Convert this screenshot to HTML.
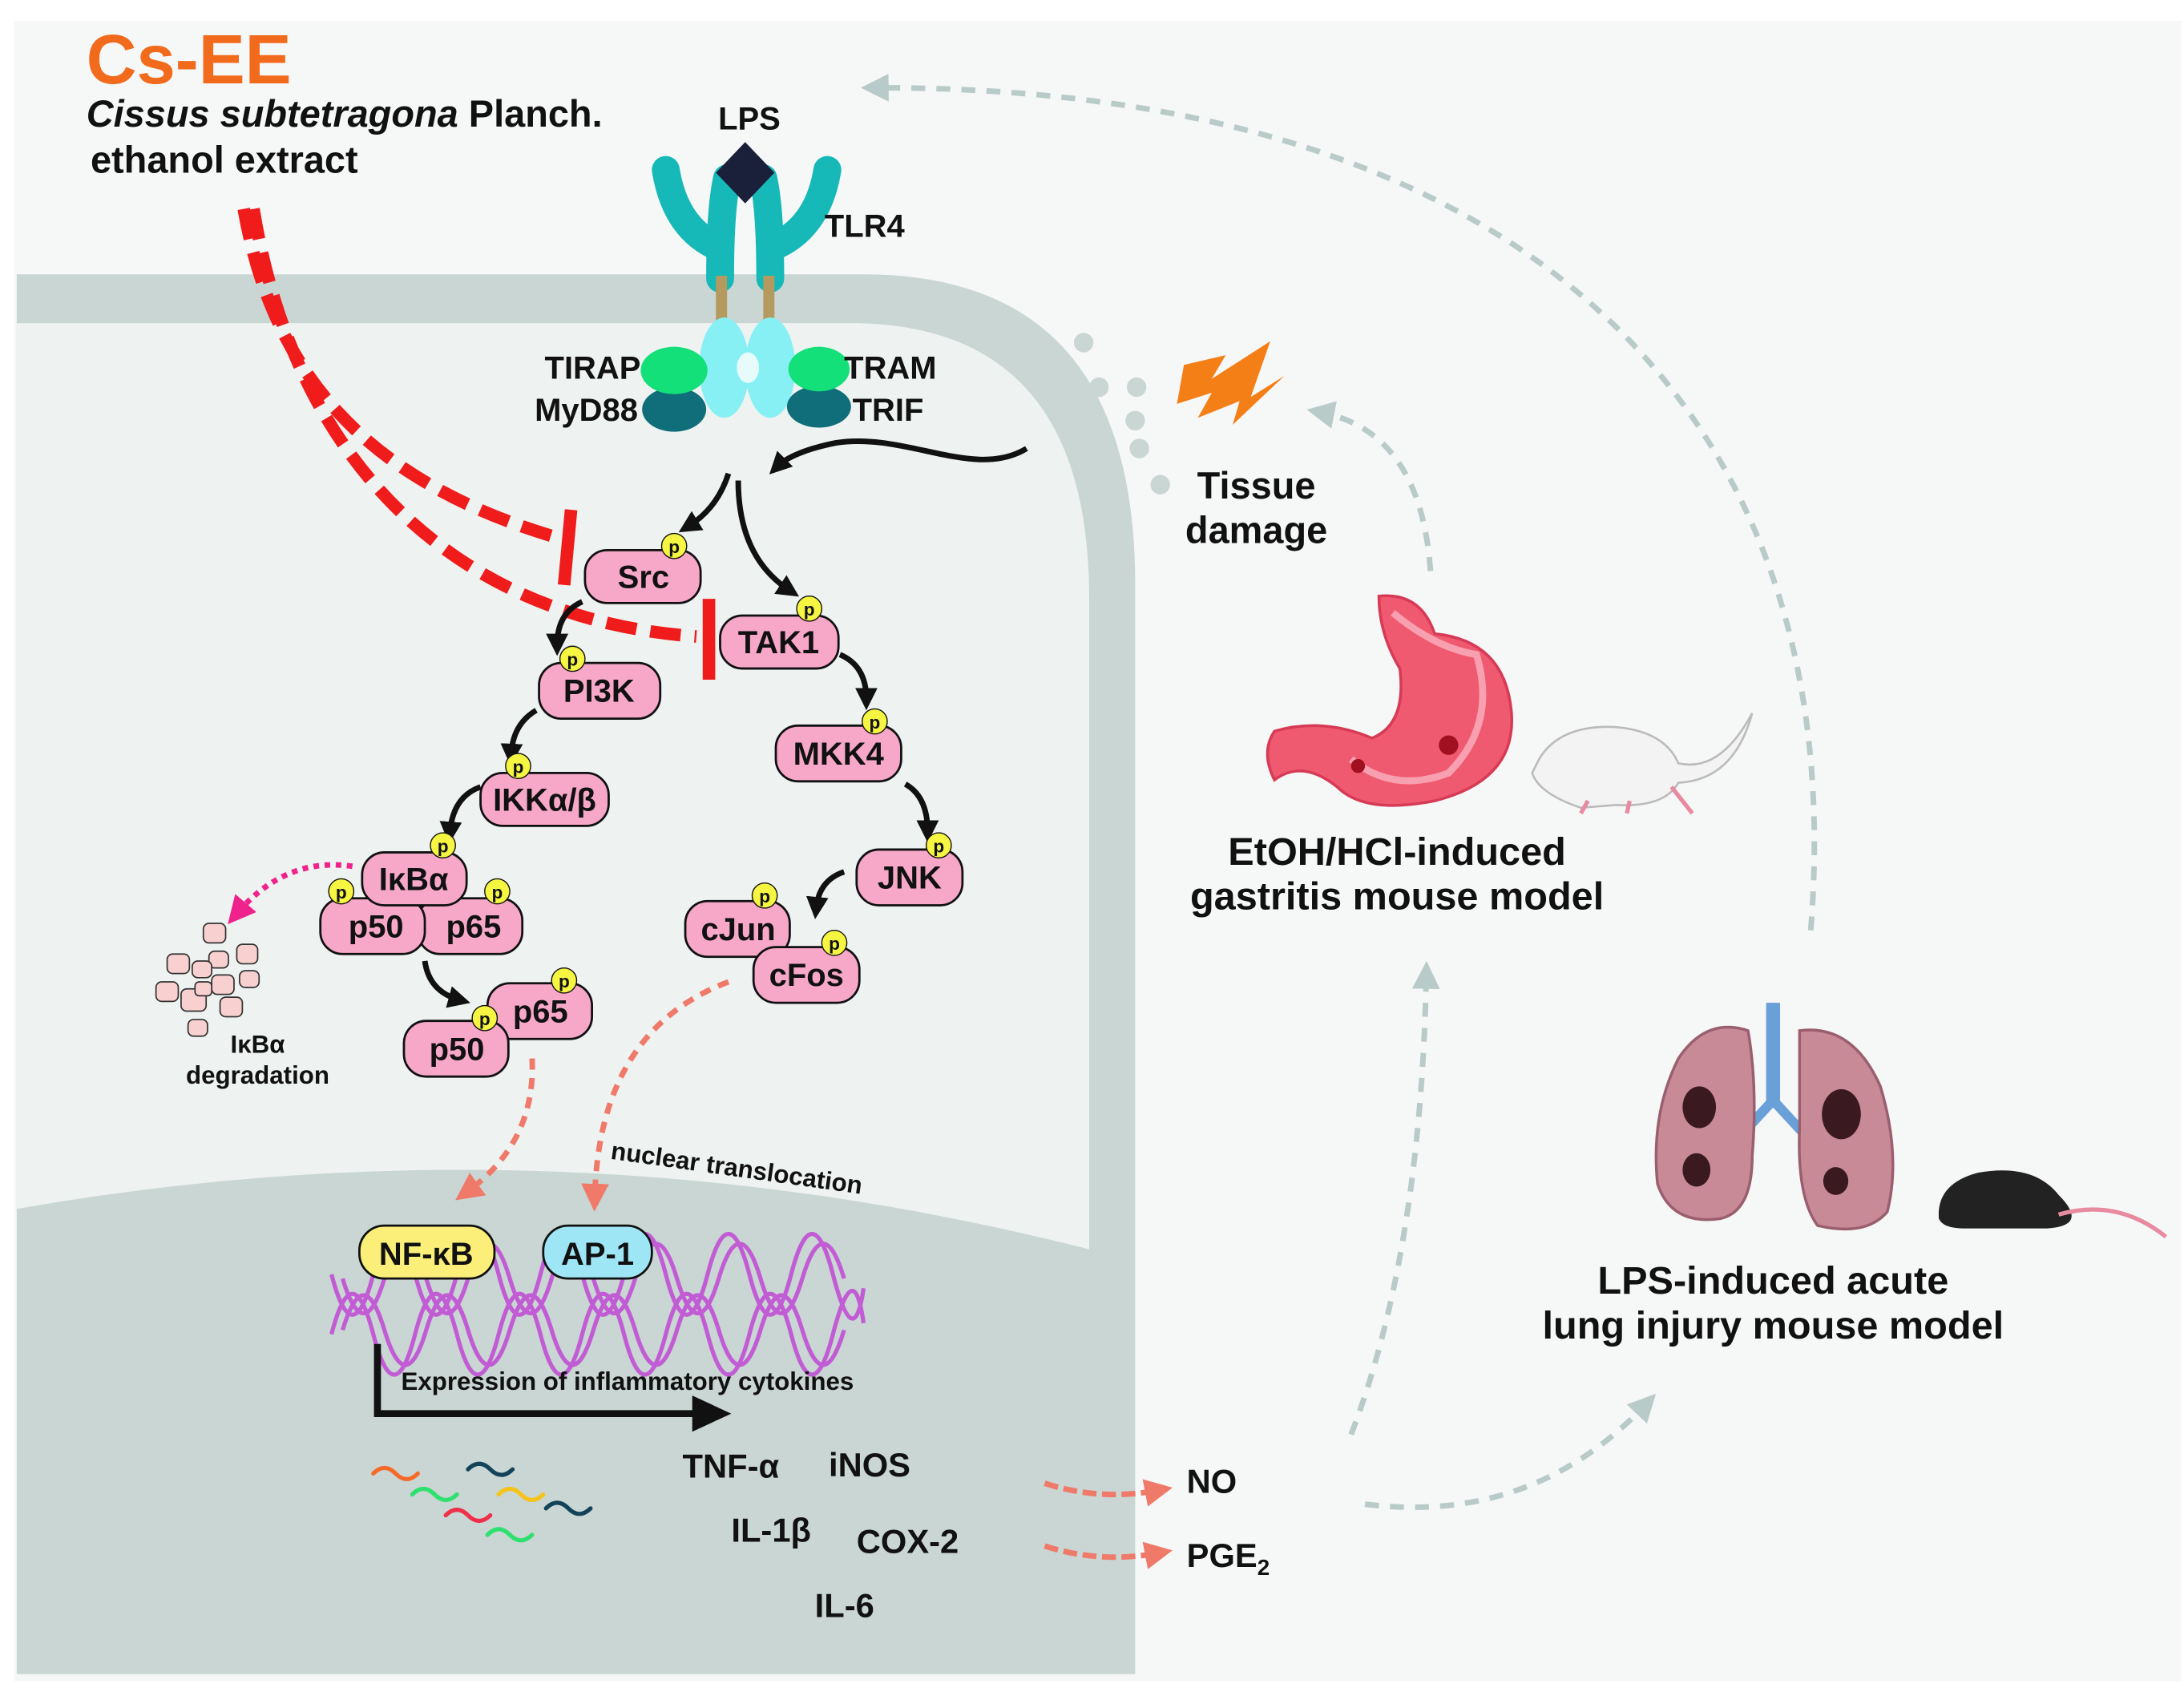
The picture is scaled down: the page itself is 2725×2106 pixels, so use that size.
<!DOCTYPE html>
<html><head><meta charset="utf-8"><style>
html,body{margin:0;padding:0;background:#fff;}
svg{display:block;}
text{font-family:"Liberation Sans",Arial,sans-serif;font-weight:bold;fill:#111;}
</style></head><body>
<svg width="2725" height="2106" viewBox="0 0 1568 1212" preserveAspectRatio="none" xmlns="http://www.w3.org/2000/svg">
<defs>
<marker id="as" markerWidth="5" markerHeight="5" refX="2.5" refY="2.5" orient="auto" markerUnits="strokeWidth"><path d="M0,0 L5,2.5 L0,5 z" fill="#f07a6a"/></marker>
<marker id="am" markerWidth="5" markerHeight="5" refX="2.5" refY="2.5" orient="auto" markerUnits="strokeWidth"><path d="M0,0 L5,2.5 L0,5 z" fill="#f0238c"/></marker>
<marker id="ag" markerWidth="5" markerHeight="5" refX="2.5" refY="2.5" orient="auto" markerUnits="strokeWidth"><path d="M0,0 L5,2.5 L0,5 z" fill="#b8cbc8"/></marker>
<marker id="ak" markerWidth="4" markerHeight="4" refX="2" refY="2" orient="auto" markerUnits="strokeWidth"><path d="M0,0 L4,2 L0,4 z" fill="#111"/></marker>
</defs>
<rect x="10" y="15" width="1556" height="1192" fill="#f6f7f7"/>
<!-- cell -->
<path d="M12,197 H620 Q815,197 815,420 V1202 H12 Z" fill="#c9d6d3"/>
<path d="M12,232 H610 Q782,232 782,430 V897 Q400,800 12,868 Z" fill="#eef2f1"/>

<!-- title -->
<text x="62" y="60" font-size="50" style="fill:#f26a1b">Cs-EE</text>
<text x="62" y="91" font-size="27"><tspan font-style="italic">Cissus subtetragona</tspan> Planch.</text>
<text x="65" y="124" font-size="27">ethanol extract</text>

<!-- gray dashed arrows -->
<g fill="none" stroke="#b8cbc8" stroke-width="4" stroke-dasharray="10 8">
<path d="M1300,668 C1330,300 1100,62 628,63" marker-end="url(#ag)"/>
<path d="M1027,410 Q1020,310 948,296" marker-end="url(#ag)"/>
<path d="M970,1030 Q1020,900 1024,700" marker-end="url(#ag)"/>
<path d="M980,1080 Q1100,1095 1182,1008" marker-end="url(#ag)"/>
</g>

<!-- TLR4 -->
<g fill="none" stroke="#16b8b8" stroke-width="20" stroke-linecap="round">
<path d="M478,122 Q485,165 517,178"/>
<path d="M522,128 Q517,150 517,200"/>
<path d="M594,122 Q587,165 553,178"/>
<path d="M548,128 Q553,150 553,200"/>
</g>
<polygon points="535,102 556,124 535,146 514,124" fill="#1a1f3a"/>
<text x="538" y="93" font-size="23" text-anchor="middle">LPS</text>
<rect x="514" y="198" width="8" height="34" fill="#b49a5f"/>
<rect x="548" y="198" width="8" height="34" fill="#b49a5f"/>
<ellipse cx="520" cy="264" rx="18" ry="36" fill="#86f0f5"/>
<ellipse cx="553" cy="264" rx="18" ry="36" fill="#86f0f5"/>
<ellipse cx="537" cy="264" rx="8" ry="11" fill="#e8fbfb"/>
<ellipse cx="484" cy="294" rx="23" ry="16" fill="#0f6e7a"/>
<ellipse cx="484" cy="266" rx="24" ry="17" fill="#14e07a"/>
<ellipse cx="588" cy="292" rx="23" ry="15" fill="#0f6e7a"/>
<ellipse cx="588" cy="265" rx="22" ry="16" fill="#14e07a"/>
<text x="592" y="170" font-size="23">TLR4</text>
<text x="460" y="272" font-size="23" text-anchor="end">TIRAP</text>
<text x="458" y="302" font-size="23" text-anchor="end">MyD88</text>
<text x="606" y="272" font-size="23">TRAM</text>
<text x="612" y="302" font-size="23">TRIF</text>

<!-- tissue damage -->
<g fill="#c9d6d3">
<circle cx="778" cy="246" r="7"/><circle cx="789" cy="278" r="7"/><circle cx="816" cy="278" r="7"/><circle cx="756" cy="286" r="7"/>
<circle cx="768" cy="307" r="7"/><circle cx="815" cy="302" r="7"/><circle cx="777" cy="328" r="7"/><circle cx="818" cy="322" r="7"/>
<circle cx="785" cy="345" r="7"/><circle cx="833" cy="348" r="7"/>
</g>
<path d="M850,262 L880,255 L870,272 L912,245 L898,285 L922,270 L885,305 L890,288 L860,300 L870,282 L845,290 Z" fill="#f57f17"/>
<text x="902" y="358" font-size="27" text-anchor="middle">Tissue</text>
<text x="902" y="390" font-size="27" text-anchor="middle">damage</text>
<path d="M737,322 C700,345 650,310 600,318 C580,322 565,328 558,335" fill="none" stroke="#111" stroke-width="4" marker-end="url(#ak)"/>

<!-- red inhibition -->
<g fill="none" stroke="#f01b1b" stroke-width="9" stroke-dasharray="22 10">
<path d="M175,150 C195,265 260,345 400,386"/>
<path d="M182,150 C212,335 330,445 500,457"/>
</g>
<line x1="410" y1="366" x2="405" y2="420" stroke="#f01b1b" stroke-width="9"/>
<line x1="509" y1="430" x2="509" y2="488" stroke="#f01b1b" stroke-width="9"/>

<!-- black arrows -->
<g fill="none" stroke="#111" stroke-width="4">
<path d="M523,340 Q515,365 494,378" marker-end="url(#ak)"/>
<path d="M530,345 Q530,400 567,424" marker-end="url(#ak)"/>
<path d="M418,432 Q400,440 400,463" marker-end="url(#ak)"/>
<path d="M603,470 Q622,478 622,502" marker-end="url(#ak)"/>
<path d="M385,510 Q368,520 367,542" marker-end="url(#ak)"/>
<path d="M650,563 Q666,572 666,597" marker-end="url(#ak)"/>
<path d="M345,565 Q325,572 323,598" marker-end="url(#ak)"/>
<path d="M606,626 Q588,632 586,652" marker-end="url(#ak)"/>
<path d="M305,690 Q308,712 330,718" marker-end="url(#ak)"/>
</g>

<!-- nodes -->
<g stroke="#111" stroke-width="1.6" fill="#f7a8c8">
<rect x="420" y="395" width="83" height="38" rx="16"/>
<rect x="517" y="442" width="85" height="38" rx="16"/>
<rect x="387" y="476" width="87" height="40" rx="16"/>
<rect x="557" y="521" width="90" height="40" rx="16"/>
<rect x="345" y="555" width="92" height="38" rx="16"/>
<rect x="615" y="610" width="76" height="40" rx="16"/>
<rect x="300" y="645" width="75" height="40" rx="16"/>
<rect x="230" y="645" width="75" height="40" rx="16"/>
<rect x="260" y="612" width="75" height="38" rx="16"/>
<rect x="492" y="647" width="75" height="40" rx="16"/>
<rect x="541" y="680" width="76" height="40" rx="16"/>
<rect x="350" y="706" width="75" height="40" rx="16"/>
<rect x="290" y="733" width="75" height="40" rx="16"/>
</g>
<g font-size="23" text-anchor="middle">
<text x="462" y="422">Src</text>
<text x="559" y="469">TAK1</text>
<text x="430" y="504">PI3K</text>
<text x="602" y="549">MKK4</text>
<text x="391" y="582">IKKα/β</text>
<text x="653" y="638">JNK</text>
<text x="340" y="673">p65</text>
<text x="270" y="673">p50</text>
<text x="297" y="639">IκBα</text>
<text x="530" y="675">cJun</text>
<text x="579" y="708">cFos</text>
<text x="388" y="734">p65</text>
<text x="328" y="761">p50</text>
</g>
<g fill="#f5f542" stroke="#111" stroke-width="0.8">
<circle cx="484" cy="392" r="9"/><circle cx="581" cy="437" r="9"/><circle cx="411" cy="473" r="9"/><circle cx="628" cy="518" r="9"/>
<circle cx="372" cy="550" r="9"/><circle cx="674" cy="607" r="9"/><circle cx="318" cy="607" r="9"/><circle cx="245" cy="640" r="9"/>
<circle cx="357" cy="640" r="9"/><circle cx="549" cy="643" r="9"/><circle cx="599" cy="677" r="9"/><circle cx="405" cy="704" r="9"/><circle cx="348" cy="731" r="9"/>
</g>
<g font-size="13" text-anchor="middle">
<text x="484" y="397">p</text><text x="581" y="442">p</text><text x="411" y="478">p</text><text x="628" y="523">p</text>
<text x="372" y="555">p</text><text x="674" y="612">p</text><text x="318" y="612">p</text><text x="245" y="645">p</text>
<text x="357" y="645">p</text><text x="549" y="648">p</text><text x="599" y="682">p</text><text x="405" y="709">p</text><text x="348" y="736">p</text>
</g>

<!-- degradation -->
<path d="M253,622 Q205,615 170,656" fill="none" stroke="#f0238c" stroke-width="4" stroke-dasharray="4 4" marker-end="url(#am)"/>
<g fill="#f9d0d0" stroke="#333" stroke-width="1">
<rect x="146" y="663" width="16" height="14" rx="4"/><rect x="120" y="685" width="16" height="14" rx="4"/><rect x="150" y="683" width="14" height="12" rx="4"/>
<rect x="170" y="678" width="15" height="14" rx="4"/><rect x="138" y="690" width="14" height="12" rx="4"/><rect x="112" y="705" width="16" height="14" rx="4"/>
<rect x="152" y="700" width="16" height="14" rx="4"/><rect x="172" y="697" width="14" height="12" rx="4"/><rect x="130" y="710" width="18" height="16" rx="4"/>
<rect x="158" y="716" width="16" height="14" rx="4"/><rect x="135" y="732" width="14" height="12" rx="4"/><rect x="140" y="705" width="12" height="10" rx="3"/>
</g>
<text x="185" y="756" font-size="18" text-anchor="middle">IκBα</text>
<text x="185" y="778" font-size="18" text-anchor="middle">degradation</text>

<!-- translocation -->
<g fill="none" stroke="#f07a6a" stroke-width="4" stroke-dasharray="8 6">
<path d="M382,760 Q385,820 335,856" marker-end="url(#as)"/>
<path d="M523,705 Q430,740 427,860" marker-end="url(#as)"/>
</g>
<text x="438" y="832" font-size="18" transform="rotate(8 438 832)">nuclear translocation</text>

<!-- DNA -->
<g fill="none" stroke="#c14fd5" stroke-width="3" opacity="0.9">
<path d="M238,958 Q253,900 268,958 T298,958 T328,958 T358,958 T388,958 T418,958 T448,958 T478,958 T508,958 T538,958 T568,958 T598,958 T620,950"/>
<path d="M238,915 Q253,973 268,915 T298,915 T328,915 T358,915 T388,915 T418,915 T448,915 T478,915 T508,915 T538,915 T568,915 T598,915 T620,925"/>
<path d="M246,955 Q261,905 276,955 T306,955 T336,955 T366,955 T396,955 T426,955 T456,955 T486,955 T516,955 T546,955 T576,955 T606,955"/>
<path d="M246,918 Q261,968 276,918 T306,918 T336,918 T366,918 T396,918 T426,918 T456,918 T486,918 T516,918 T546,918 T576,918 T606,918"/>
</g>
<rect x="258" y="880" width="97" height="38" rx="18" fill="#fbef7a" stroke="#111" stroke-width="1.6"/>
<text x="306" y="908" font-size="23" text-anchor="middle">NF-κB</text>
<rect x="390" y="880" width="78" height="38" rx="18" fill="#9ee5f5" stroke="#111" stroke-width="1.6"/>
<text x="429" y="908" font-size="23" text-anchor="middle">AP-1</text>

<path d="M271,965 V1015 H500" fill="none" stroke="#111" stroke-width="5"/>
<polygon points="497,1002 525,1015 497,1028" fill="#111"/>
<text x="288" y="998" font-size="18">Expression of inflammatory cytokines</text>

<!-- cytokine squiggles -->
<g fill="none" stroke-width="3" stroke-linecap="round">
<path d="M268,1058 q8,-8 16,0 t16,0" stroke="#f56a2a"/>
<path d="M336,1055 q8,-8 16,0 t16,0" stroke="#13435a"/>
<path d="M296,1073 q8,-8 16,0 t16,0" stroke="#2ee06e"/>
<path d="M358,1073 q8,-8 16,0 t16,0" stroke="#f5c31a"/>
<path d="M320,1088 q8,-8 16,0 t16,0" stroke="#f0304a"/>
<path d="M392,1083 q8,-8 16,0 t16,0" stroke="#13435a"/>
<path d="M350,1102 q8,-8 16,0 t16,0" stroke="#2ee06e"/>
</g>
<g font-size="24">
<text x="490" y="1061">TNF-α</text>
<text x="595" y="1060">iNOS</text>
<text x="525" y="1107">IL-1β</text>
<text x="615" y="1115">COX-2</text>
<text x="585" y="1161">IL-6</text>
</g>
<g fill="none" stroke="#f07a6a" stroke-width="4" stroke-dasharray="10 4">
<path d="M750,1065 Q790,1078 832,1070" marker-end="url(#as)"/>
<path d="M750,1110 Q790,1123 832,1115" marker-end="url(#as)"/>
</g>
<text x="852" y="1072" font-size="24">NO</text>
<text x="852" y="1125" font-size="24">PGE<tspan font-size="16" dy="6">2</tspan></text>

<!-- stomach -->
<path d="M990,428 Q1020,425 1030,455 Q1080,460 1085,510 Q1090,560 1030,575 Q980,585 960,565 Q935,545 915,560 Q905,540 915,525 Q950,515 985,530 Q1010,520 1005,480 Q990,455 990,428 Z" fill="#f05a70" stroke="#d63a55" stroke-width="2"/>
<path d="M1000,440 Q1030,465 1060,470 Q1075,520 1040,555 Q1000,570 970,545" fill="none" stroke="#f8a0b0" stroke-width="5"/>
<circle cx="1040" cy="535" r="7" fill="#a01020"/><circle cx="975" cy="550" r="5" fill="#a01020"/>
<path d="M1105,545 Q1120,520 1160,522 Q1195,525 1205,548 Q1235,555 1258,512 Q1245,560 1205,562 Q1195,580 1160,578 L1135,580 Q1105,570 1100,555 Z" fill="#f3f3f3" stroke="#bbb" stroke-width="1.5"/>
<g stroke="#e88aa0" stroke-width="3"><line x1="1140" y1="575" x2="1135" y2="584"/><line x1="1170" y1="575" x2="1168" y2="584"/><line x1="1200" y1="565" x2="1215" y2="584"/></g>
<text x="1003" y="621" font-size="28" text-anchor="middle">EtOH/HCl-induced</text>
<text x="1003" y="653" font-size="28" text-anchor="middle">gastritis mouse model</text>

<!-- lungs -->
<rect x="1268" y="720" width="10" height="75" fill="#6aa0d8"/>
<path d="M1273,790 L1250,815 M1273,790 L1296,815" stroke="#6aa0d8" stroke-width="7" fill="none"/>
<path d="M1255,740 Q1225,730 1205,760 Q1185,800 1190,850 Q1200,880 1235,875 Q1258,870 1258,830 Q1262,780 1255,740 Z" fill="#c98a98" stroke="#9a5f6f" stroke-width="2"/>
<path d="M1292,740 Q1330,735 1350,780 Q1365,830 1355,870 Q1340,888 1305,880 Q1290,860 1292,810 Z" fill="#c98a98" stroke="#9a5f6f" stroke-width="2"/>
<ellipse cx="1220" cy="795" rx="12" ry="15" fill="#3a1a20"/>
<ellipse cx="1218" cy="840" rx="10" ry="12" fill="#3a1a20"/>
<ellipse cx="1322" cy="800" rx="14" ry="18" fill="#3a1a20"/>
<ellipse cx="1318" cy="848" rx="9" ry="10" fill="#3a1a20"/>
<path d="M1392,875 Q1390,850 1420,842 Q1460,835 1478,858 Q1500,880 1470,882 L1410,882 Q1395,882 1392,875 Z" fill="#222"/>
<path d="M1478,872 Q1520,860 1555,888" fill="none" stroke="#e88aa0" stroke-width="3"/>
<text x="1273" y="929" font-size="28" text-anchor="middle">LPS-induced acute</text>
<text x="1273" y="961" font-size="28" text-anchor="middle">lung injury mouse model</text>
</svg>
</body></html>
